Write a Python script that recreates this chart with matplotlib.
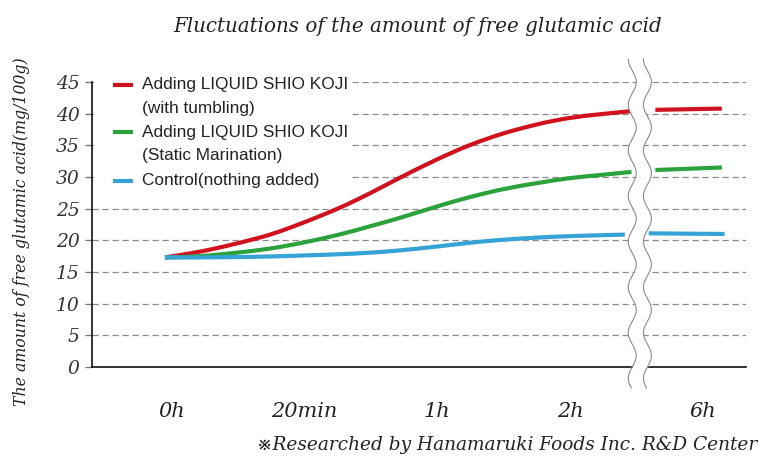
import numpy as np
import matplotlib.pyplot as plt
from matplotlib.patches import Rectangle, PathPatch
from matplotlib.path import Path

# category axis
tick_pos = [0, 1, 2, 3, 4]
tick_labels = ["0h", "20min", "1h", "2h", "6h"]

# values (x in category units)
x_before = [-0.05, 0.21, 0.47, 0.74, 0.98, 1.26, 1.49, 1.71, 1.99, 2.24, 2.5, 2.77, 2.99, 3.22, 3.46]
red_before = [17.3, 18.2, 19.4, 20.9, 22.7, 25.1, 27.4, 29.8, 32.7, 35.0, 36.9, 38.4, 39.3, 39.9, 40.4]
green_before = [17.3, 17.5, 18.0, 18.7, 19.6, 20.9, 22.2, 23.5, 25.3, 26.8, 28.1, 29.1, 29.8, 30.3, 30.8]
x_blue = [-0.05, 0.21, 0.47, 0.74, 0.98, 1.26, 1.49, 1.71, 1.99, 2.24, 2.5, 2.77, 2.99, 3.22, 3.41]
blue_before = [17.3, 17.3, 17.35, 17.45, 17.6, 17.8, 18.05, 18.4, 19.0, 19.6, 20.1, 20.45, 20.65, 20.8, 20.9]

x_after = [3.64, 4.14]
x_blue_after = [3.59, 4.16]
red_after = [40.6, 40.8]
green_after = [31.1, 31.5]
blue_after = [21.1, 21.0]

labels = ["Adding LIQUID SHIO KOJI\n(with tumbling)",
          "Adding LIQUID SHIO KOJI\n(Static Marination)",
          "Control(nothing added)"]
colors = ["#d0121e", "#2ba23c", "#36a3d6"]

serif = ["DejaVu Serif", "DejaVu Sans", "Noto Sans CJK JP"]


def smooth_path(x, y):
    # cubic bezier through the read points (catmull-rom style handles)
    n = len(x)
    verts = [(x[0], y[0])]
    codes = [Path.MOVETO]
    for i in range(n - 1):
        a = max(i - 1, 0)
        b = min(i + 2, n - 1)
        c1 = (x[i] + (x[i + 1] - x[a]) / 6, y[i] + (y[i + 1] - y[a]) / 6)
        c2 = (x[i + 1] - (x[b] - x[i]) / 6, y[i + 1] - (y[b] - y[i]) / 6)
        verts += [c1, c2, (x[i + 1], y[i + 1])]
        codes += [Path.CURVE4] * 3
    return Path(verts, codes)


fig = plt.figure(figsize=(7.72, 4.72), dpi=100)
ax = fig.add_axes([0.119, 0.2225, 0.847, 0.6038])

series = [(x_before, red_before, x_after, red_after),
          (x_before, green_before, x_after, green_after),
          (x_blue, blue_before, x_blue_after, blue_after)]
for (xb, yb, xa, ya), c in zip(series, colors):
    ax.add_patch(PathPatch(smooth_path(xb, yb), fill=False, edgecolor=c, lw=3,
                           capstyle="butt", zorder=3))
    ax.plot(xa, ya, color=c, lw=3, solid_capstyle="butt", zorder=3)

ax.set_xlim(-0.6, 4.32)
ax.set_ylim(0, 45)
ax.set_yticks(range(0, 50, 5))
ax.set_yticklabels([str(v) for v in range(0, 50, 5)], fontfamily="DejaVu Serif",
                   fontstyle="italic", fontsize=13.5, color="#333333")
ax.set_xticks(tick_pos)
ax.set_xticklabels(tick_labels, fontfamily="DejaVu Serif", fontstyle="italic",
                   fontsize=15, color="#222222")
ax.tick_params(axis="x", length=0, pad=25)
ax.tick_params(axis="y", length=5, width=1, color="#777777", pad=4)

for v in range(5, 50, 5):
    ax.axhline(v, color="#8a8a8a", lw=0.9, dashes=(5, 3), zorder=1)

for s in ["top", "right"]:
    ax.spines[s].set_visible(False)
for s in ["left", "bottom"]:
    ax.spines[s].set_linewidth(1.2)
    ax.spines[s].set_color("#111111")

# legend, drawn by hand so the handle sits on the first text line
ax.add_patch(Rectangle((0.003, 0.6), 0.395, 0.42, transform=ax.transAxes,
                       facecolor="white", edgecolor="none", zorder=2, clip_on=False))
rows_y = [0.99, 0.823, 0.653]
for lab, c, yy in zip(labels, colors, rows_y):
    ax.plot([0.032, 0.063], [yy, yy], transform=ax.transAxes, color=c, lw=3,
            solid_capstyle="butt", zorder=4, clip_on=False)
    ax.text(0.0765, yy + 0.027, lab, transform=ax.transAxes, ha="left", va="top",
            fontsize=12.4, family="Liberation Sans", color="#222222",
            linespacing=1.72, zorder=4)

# axis break
yy = np.linspace(-3.3, 48.6, 400)
wave = 0.03 * np.sin(2 * np.pi * yy / 7.2)
xl = 3.466 + wave
xr = 3.58 + wave
ax.fill_betweenx(yy, xl, xr, color="white", zorder=5, clip_on=False, lw=0)
ax.plot(xl, yy, color="#8a8a8a", lw=0.8, zorder=6, clip_on=False)
ax.plot(xr, yy, color="#8a8a8a", lw=0.8, zorder=6, clip_on=False)

fig.text(0.541, 0.943, "Fluctuations of the amount of free glutamic acid",
         ha="center", va="center", fontsize=14.3, family="DejaVu Serif",
         style="italic", color="#222222")
fig.text(0.028, 0.51, "The amount of free glutamic acid(mg/100g)", rotation=90,
         ha="center", va="center", fontsize=11.3, family="DejaVu Serif",
         style="italic", color="#222222")
fig.text(0.981, 0.057, "\u203bResearched by Hanamaruki Foods Inc. R&D Center",
         ha="right", va="center", fontsize=13.3, family=serif,
         style="italic", color="#222222")

fig.savefig("out.png", dpi=100)
